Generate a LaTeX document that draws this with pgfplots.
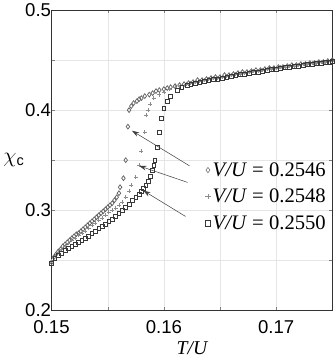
\documentclass[border=0pt]{standalone}
\usepackage{pgfplots}
\pgfplotsset{compat=1.18}
\usetikzlibrary{arrows.meta}
\usepackage{fontspec}
\setmainfont{Liberation Sans}
\newfontfamily\tnr{Liberation Serif}

% chi_c vs T/U for three values of V/U
\pgfplotstableread{
x y
0.1500 0.248
0.1502 0.253
0.1504 0.256
0.1506 0.259
0.1508 0.261
0.1510 0.264
0.1512 0.266
0.1514 0.268
0.1516 0.270
0.1518 0.272
0.1520 0.274
0.1522 0.276
0.1524 0.277
0.1526 0.279
0.1528 0.281
0.1530 0.283
0.1532 0.285
0.1534 0.287
0.1536 0.289
0.1538 0.291
0.1540 0.293
0.1542 0.295
0.1544 0.297
0.1546 0.299
0.1548 0.301
0.1550 0.303
0.1552 0.305
0.1554 0.307
0.1556 0.310
0.1558 0.313
0.1560 0.317
0.1561 0.323
0.1564 0.332
0.1566 0.350
0.1568 0.3835
0.1569 0.400
0.1571 0.404
0.1573 0.407
0.1576 0.409
0.1578 0.411
0.1580 0.412
0.1583 0.414
0.1587 0.4155
0.1590 0.417
0.1593 0.419
0.1596 0.420
0.1600 0.421
0.1603 0.422
0.1606 0.423
0.1610 0.424
0.1614 0.425
0.1618 0.426
0.1622 0.427
0.1626 0.428
0.1630 0.430
0.1634 0.430
0.1638 0.431
0.1642 0.432
0.1646 0.433
0.1650 0.433
0.1654 0.435
0.1658 0.435
0.1662 0.436
0.1666 0.437
0.1670 0.438
0.1674 0.438
0.1678 0.439
0.1682 0.440
0.1686 0.440
0.1690 0.441
0.1694 0.442
0.1698 0.442
0.1702 0.443
0.1706 0.443
0.1710 0.444
0.1714 0.445
0.1718 0.445
0.1722 0.446
0.1726 0.446
0.1730 0.447
0.1734 0.447
0.1738 0.448
0.1742 0.448
0.1746 0.449
0.1750 0.450
}\vua

\pgfplotstableread{
x y
0.1500 0.249
0.1503 0.254
0.1506 0.258
0.1509 0.261
0.1512 0.264
0.1515 0.267
0.1518 0.270
0.1521 0.272
0.1524 0.275
0.1527 0.277
0.1530 0.279
0.1533 0.282
0.1536 0.285
0.1539 0.287
0.1542 0.290
0.1545 0.292
0.1548 0.295
0.1551 0.298
0.1554 0.300
0.1557 0.302
0.1560 0.305
0.1563 0.308
0.1566 0.313
0.1569 0.319
0.1571 0.325
0.1575 0.333
0.1578 0.345
0.1580 0.359
0.1583 0.378
0.1584 0.395
0.1586 0.400
0.1588 0.406
0.1591 0.412
0.1596 0.4155
0.1600 0.418
0.1605 0.421
0.1610 0.423
0.1615 0.425
0.1620 0.426
0.1624 0.427
0.1628 0.428
0.1632 0.429
0.1636 0.430
0.1640 0.431
0.1644 0.432
0.1648 0.432
0.1652 0.433
0.1656 0.434
0.1660 0.435
0.1664 0.436
0.1668 0.436
0.1672 0.437
0.1676 0.438
0.1680 0.439
0.1684 0.439
0.1688 0.440
0.1692 0.441
0.1696 0.441
0.1700 0.442
0.1704 0.443
0.1708 0.443
0.1712 0.444
0.1716 0.444
0.1720 0.445
0.1724 0.446
0.1728 0.446
0.1732 0.447
0.1736 0.447
0.1740 0.448
0.1744 0.448
0.1748 0.449
}\vub

\pgfplotstableread{
x y
0.1500 0.247
0.1503 0.252
0.1506 0.255
0.1509 0.257
0.1512 0.260
0.1515 0.262
0.1518 0.264
0.1521 0.266
0.1524 0.268
0.1527 0.270
0.1530 0.272
0.1533 0.274
0.1536 0.277
0.1539 0.279
0.1542 0.282
0.1545 0.284
0.1548 0.286
0.1551 0.289
0.1554 0.291
0.1557 0.294
0.1560 0.297
0.1563 0.300
0.1566 0.303
0.1569 0.306
0.1572 0.310
0.1575 0.313
0.1578 0.316
0.1580 0.319
0.1582 0.322
0.1584 0.325
0.1586 0.329
0.1588 0.334
0.1590 0.340
0.1591 0.345
0.1592 0.350
0.1594 0.363
0.1596 0.378
0.1598 0.392
0.1600 0.402
0.1603 0.409
0.1606 0.414
0.1612 0.420
0.1616 0.423
0.1621 0.425
0.1624 0.426
0.1628 0.427
0.1632 0.428
0.1636 0.429
0.1640 0.430
0.1644 0.431
0.1648 0.431
0.1652 0.432
0.1656 0.433
0.1660 0.434
0.1664 0.435
0.1668 0.436
0.1672 0.436
0.1676 0.437
0.1680 0.438
0.1684 0.438
0.1688 0.439
0.1692 0.440
0.1696 0.441
0.1700 0.441
0.1704 0.442
0.1708 0.443
0.1712 0.443
0.1716 0.444
0.1720 0.444
0.1724 0.445
0.1728 0.446
0.1732 0.446
0.1736 0.447
0.1740 0.447
0.1744 0.448
0.1748 0.448
0.1750 0.449
}\vuc

\begin{document}
\begin{tikzpicture}
\begin{axis}[
    scale only axis,
    width=272pt,
    height=291pt,
    xmin=0.15, xmax=0.175,
    ymin=0.2, ymax=0.5,
    xtick={0.15,0.16,0.17},
    ytick={0.2,0.3,0.4,0.5},
    xticklabels={0.15,0.16,0.17},
    yticklabels={0.2,0.3,0.4,0.5},
    minor x tick num=1,
    minor y tick num=1,
    grid=both,
    grid style={black!10, line width=0.4pt},
    major tick length=3pt,
    minor tick length=3pt,
    tick style={black!50},
    axis line style={black!80},
    ticklabel style={font=\fontsize{18}{19}\selectfont},
    yticklabel style={xshift=3pt},
    xticklabel style={yshift=-6pt},
    xlabel={\tnr\itshape T/U},
    xlabel style={font=\fontsize{19}{20}\selectfont, yshift=-1pt},
    ylabel={$\chi_{\mathrm{c}}$},
    ylabel style={rotate=-90, font=\fontsize{20}{20}\selectfont, xshift=6pt},
    legend style={at={(0.985,0.50)}, anchor=north east, draw=none, fill=none,
      font=\fontsize{20}{22}\selectfont\tnr, row sep=7pt, inner sep=0pt,
      legend cell align=left},
    legend image post style={mark size=2.6pt, line width=0.5pt},
  ]
\addplot[only marks, mark=diamond, mark size=2.3pt, draw=black!62, line width=0.7pt] table {\vua};
\addplot[only marks, mark=+, mark size=2pt, draw=black!45, line width=0.7pt] table {\vub};
\addplot[only marks, mark=square, mark size=1.8pt, draw=black!78, line width=0.7pt] table {\vuc};
\legend{\textit{V/U} = 0.2546, \textit{V/U} = 0.2548, \textit{V/U} = 0.2550}
\draw[-{Stealth[length=7pt,width=4.5pt]}, black!75, line width=0.5pt] (axis cs:0.16229,0.3443) -- (axis cs:0.15716,0.3794);
\draw[-{Stealth[length=7pt,width=4.5pt]}, black!75, line width=0.5pt] (axis cs:0.16211,0.3278) -- (axis cs:0.15780,0.3443);
\draw[-{Stealth[length=7pt,width=4.5pt]}, black!75, line width=0.5pt] (axis cs:0.16193,0.2938) -- (axis cs:0.15817,0.3196);
\end{axis}
\end{tikzpicture}
\end{document}
